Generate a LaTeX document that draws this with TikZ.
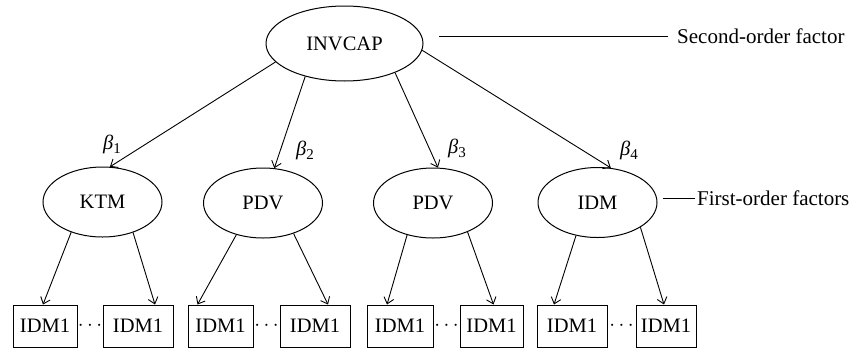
\documentclass[tikz,border=0pt]{standalone}
\usepackage{fontspec}
\setmainfont{Liberation Serif}
\usetikzlibrary{shapes.geometric,arrows.meta}
\begin{document}
\begin{tikzpicture}[x=1pt,y=-1pt,
  every node/.style={font=\fontsize{20.5}{24}\selectfont},
  oval/.style={draw,ellipse,line width=1pt,inner sep=0pt,minimum width=119pt,minimum height=70pt},
  itembox/.style={draw,rectangle,line width=1pt,inner sep=0pt,minimum height=42pt},
  side/.style={font=\fontsize{21}{24}\selectfont,anchor=west,inner sep=0pt},
  conn/.style={line width=0.9pt,-{Straight Barb[length=6pt,width=10pt,line width=0.9pt]}},
  plain/.style={line width=0.9pt},
  coef/.style={inner sep=0pt}
]
\useasboundingbox (0,0) rectangle (856,351);
\newcommand{\coefb}[1]{\textit{β}\raisebox{-0.45ex}{\fontsize{15}{15}\selectfont #1}}
% second order
\node[oval,minimum width=157pt,minimum height=75pt] (inv) at (344.5,43.5) {INVCAP};
% first order
\node[oval] (ktm) at (102.5,202) {KTM};
\node[oval] (pdva) at (263,203) {PDV};
\node[oval] (pdvb) at (433,203) {PDV};
\node[oval] (idm) at (597.5,202.5) {IDM};
% side labels
\coordinate (s1) at (439,36);
\node[side] (sec) at (677,36) {Second-order factor};
\draw[plain] (s1) -- (sec.west -| 668,0);
\coordinate (f1) at (663,198);
\node[side] (fir) at (697,198) {First-order factors};
\draw[plain] (f1) -- (fir.west -| 695,0);
% boxes
\node[itembox,minimum width=64pt] (b1) at (45,326) {IDM1};
\node[itembox,minimum width=70pt] (b2) at (138,326) {IDM1};
\node[itembox,minimum width=65pt] (b3) at (220.5,326) {IDM1};
\node[itembox,minimum width=70pt] (b4) at (315,326) {IDM1};
\node[itembox,minimum width=66pt] (b5) at (400,326) {IDM1};
\node[itembox,minimum width=63pt] (b6) at (491.5,326) {IDM1};
\node[itembox,minimum width=70pt] (b7) at (572,326) {IDM1};
\node[itembox,minimum width=60pt] (b8) at (666,326) {IDM1};
% dots
\node[inner sep=0pt] (d1) at (90,326) {$\cdots$};
\node[inner sep=0pt] (d2) at (266.5,326) {$\cdots$};
\node[inner sep=0pt] (d3) at (446.5,326) {$\cdots$};
\node[inner sep=0pt] (d4) at (621.5,326) {$\cdots$};
% top arrows
\draw[conn] (inv.195) -- (ktm.78);
\draw[conn] (inv.220) -- (pdva.72);
\draw[conn] (inv.330) -- (pdvb.82);
\draw[conn] (inv.355) -- (idm.69);
% coefficients
\node[coef] (c1) at (112,144) {\coefb{1}};
\node[coef] (c2) at (305,150) {\coefb{2}};
\node[coef] (c3) at (457,148) {\coefb{3}};
\node[coef] (c4) at (629,150) {\coefb{4}};
% bottom arrows
\draw[conn] (ktm.224) -- ([xshift=-2pt]b1.north);
\draw[conn] (ktm.315) -- ([xshift=17pt]b2.north);
\draw[conn] (pdva.230) -- ([xshift=-23pt]b3.north);
\draw[conn] (pdva.315) -- ([xshift=13pt]b4.north);
\draw[conn] (pdvb.231) -- ([xshift=-13pt]b5.north);
\draw[conn] (pdvb.320) -- ([xshift=2pt]b6.north);
\draw[conn] (idm.237) -- ([xshift=-18pt]b7.north);
\draw[conn] (idm.330) -- ([xshift=-2pt]b8.north);
\end{tikzpicture}
\end{document}
